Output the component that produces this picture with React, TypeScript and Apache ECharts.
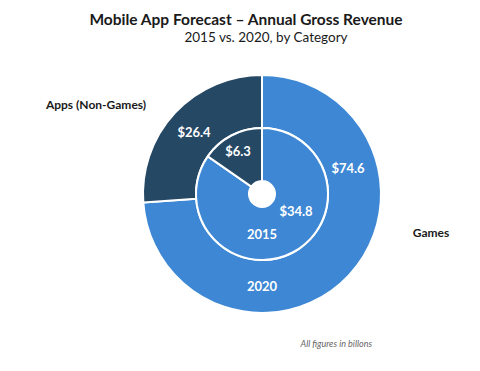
import React, { useEffect, useRef } from "react";
import * as echarts from "echarts";

const categories = ["Games", "Apps (Non-Games)"];
const values2020 = [74.6, 26.4];
const values2015 = [34.8, 6.3];
const years = ["2015", "2020"];
const colors = ["#3d87d4", "#254865"];

// label anchor positions (px) for each series / data index
const outerLabelPos: ([number, number] | null)[] = [[348, 168], [194, 132]];
const innerLabelPos: ([number, number] | null)[] = [[296, 211], [238, 151]];

export default function App() {
  const ref = useRef<HTMLDivElement>(null);
  useEffect(() => {
    if (!ref.current) return;
    const chart = echarts.init(ref.current, null, { renderer: "svg" });
    const font = "Lato, 'Open Sans', sans-serif";
    const mk = (vals: number[]) =>
      vals.map((v, i) => ({ name: categories[i], value: v, itemStyle: { color: colors[i] } }));
    const label = {
      show: true,
      position: "inside" as const,
      formatter: (p: any) => "$" + p.value.toFixed(1),
      color: "#ffffff",
      fontSize: 13,
      fontWeight: "bold" as const,
      fontFamily: font,
    };
    const txt = (text: string, x: number, y: number, fill: string, size: number, weight: string, align = "center", style = "normal") => ({
      type: "text",
      z: 100,
      x,
      y,
      style: { text, fill, fontSize: size, fontWeight: weight, fontStyle: style, fontFamily: font, align, verticalAlign: "middle" },
    });
    chart.setOption({
      animation: false,
      backgroundColor: "#ffffff",
      title: [
        {
          text: "Mobile App Forecast – Annual Gross Revenue",
          left: 241,
          top: 6,
          textAlign: "center",
          textStyle: { fontSize: 15.5, fontWeight: "bold", color: "#1a1a1a", fontFamily: font },
        },
        {
          text: "2015 vs. 2020, by Category",
          left: 261,
          top: 25,
          textAlign: "center",
          textStyle: { fontSize: 13.5, fontWeight: "normal", color: "#1a1a1a", fontFamily: font },
        },
      ],
      series: [
        {
          type: "pie",
          center: [262, 194],
          radius: [66, 119],
          startAngle: 90,
          clockwise: true,
          silent: true,
          itemStyle: { borderColor: "#ffffff", borderWidth: 2 },
          label,
          labelLine: { show: false },
          labelLayout: (p: any) => {
            const pos = outerLabelPos[p.dataIndex];
            return pos ? { x: pos[0], y: pos[1], align: "center", verticalAlign: "middle" } : {};
          },
          data: mk(values2020),
        },
        {
          type: "pie",
          center: [262, 194],
          radius: [13, 66],
          startAngle: 90,
          clockwise: true,
          silent: true,
          itemStyle: { borderColor: "#ffffff", borderWidth: 2 },
          label,
          labelLine: { show: false },
          labelLayout: (p: any) => {
            const pos = innerLabelPos[p.dataIndex];
            return pos ? { x: pos[0], y: pos[1], align: "center", verticalAlign: "middle" } : {};
          },
          data: mk(values2015),
        },
      ],
      graphic: [
        txt(years[0], 262, 234, "#ffffff", 13, "bold"),
        txt(years[1], 262, 286, "#ffffff", 13, "bold"),
        txt(categories[1], 96, 104, "#1a1a1a", 12, "bold"),
        txt(categories[0], 431, 232, "#1a1a1a", 12, "bold"),
        txt("All figures in billons", 372, 343, "#666666", 9, "normal", "right", "italic"),
      ],
    });
    return () => chart.dispose();
  }, []);
  return <div ref={ref} style={{ position: "fixed", left: 0, top: 0, width: 480, height: 371 }} />;
}
